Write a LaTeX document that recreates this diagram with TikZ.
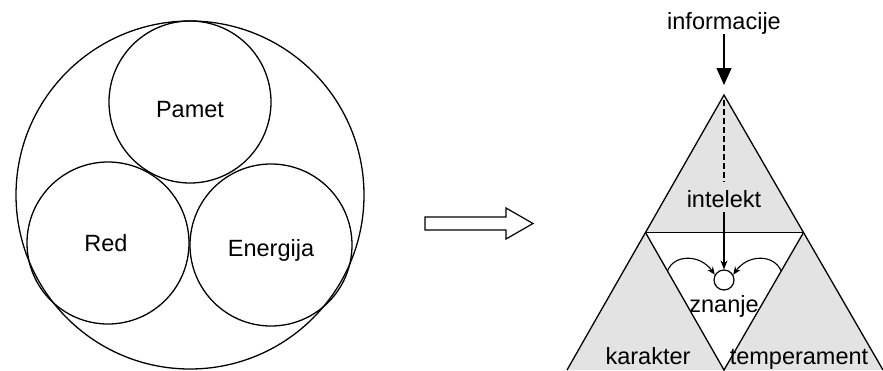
\documentclass[tikz,border=0pt]{standalone}
\usepackage{fontspec}
\setmainfont{Liberation Sans}
\usetikzlibrary{arrows.meta,calc}
\begin{document}
\begin{tikzpicture}[x=1pt,y=-1pt,
  every node/.style={font=\fontsize{23.5}{28}\selectfont},
  ring/.style={circle,draw,line width=1.3pt,inner sep=0pt,outer sep=0pt},
  lbl/.style={anchor=base,inner sep=0pt},
  edge/.style={line width=1.3pt},
  thin edge/.style={line width=1.1pt},
  shade/.style={fill=black!11},
]
\useasboundingbox (0,0) rectangle (883,370);

% left: three circles inside one
\node[ring,minimum size=348pt] (whole) at (190,195) {};
\node[ring,minimum size=162pt] (pametc) at (190,102) {};
\node[ring,minimum size=162pt] (redc) at (108,243) {};
\node[ring,minimum size=162pt] (energc) at (271,245) {};
\node[lbl] (pamet) at (190,117) {Pamet};
\node[lbl] (red) at (106,251) {Red};
\node[lbl] (energija) at (271,256) {Energija};

% hollow arrow
\draw[edge,line width=1.2pt,line join=miter]
  (425,217) -- (506,217) -- (506,208) -- (533,223.5) -- (506,239) -- (506,230) -- (425,230) -- cycle;

% right: triangle split into four
\coordinate (apex) at (724,95);
\coordinate (bl) at (567,370);
\coordinate (br) at (883,370);
\coordinate (ml) at ($(apex)!0.5!(bl)$);
\coordinate (mr) at ($(apex)!0.5!(br)$);
\coordinate (bm) at (724,370);

\fill[shade] (apex) -- (ml) -- (mr) -- cycle;
\fill[shade] (ml) -- (bl) -- (bm) -- cycle;
\fill[shade] (mr) -- (bm) -- (br) -- cycle;
\draw[edge,line join=miter] (bl) -- (apex) -- (br);
\draw[edge] (ml) -- (mr);
\draw[edge,line join=miter] (ml) -- (bm) -- (mr);

% labels
\node[lbl] (info) at (724,29) {informacije};
\node[lbl] (intel) at (724,207) {intelekt};
\node[lbl] (znanje) at (724,312) {znanje};
\node[lbl] (karakter) at (648,364) {karakter};
\node[lbl] (temp) at (799,364) {temperament};

% knowledge point
\node[circle,draw,line width=1.2pt,minimum size=20pt,inner sep=0pt] (kn) at (724,280) {};

% flows
\draw[thin edge,-{Triangle[length=17pt,width=15pt]},shorten >=10pt] (info.south) -- (apex);
\coordinate (dashend) at (724,182);
\draw[thin edge,dash pattern=on 6pt off 3pt,shorten <=5pt] (apex) -- (dashend);
\draw[thin edge,-{Stealth[length=9pt,width=7pt]},shorten <=5pt] (intel.south) -- (kn.north);
\coordinate (lstart) at ($(ml)!0.28!(bm)$);
\coordinate (rstart) at ($(mr)!0.28!(bm)$);
\draw[thin edge,-{Stealth[length=8pt,width=6.5pt]}] (lstart) .. controls (674,254) and (700,254) .. (kn.150);
\draw[thin edge,-{Stealth[length=8pt,width=6.5pt]}] (rstart) .. controls (774,254) and (748,254) .. (kn.30);
\end{tikzpicture}
\end{document}
